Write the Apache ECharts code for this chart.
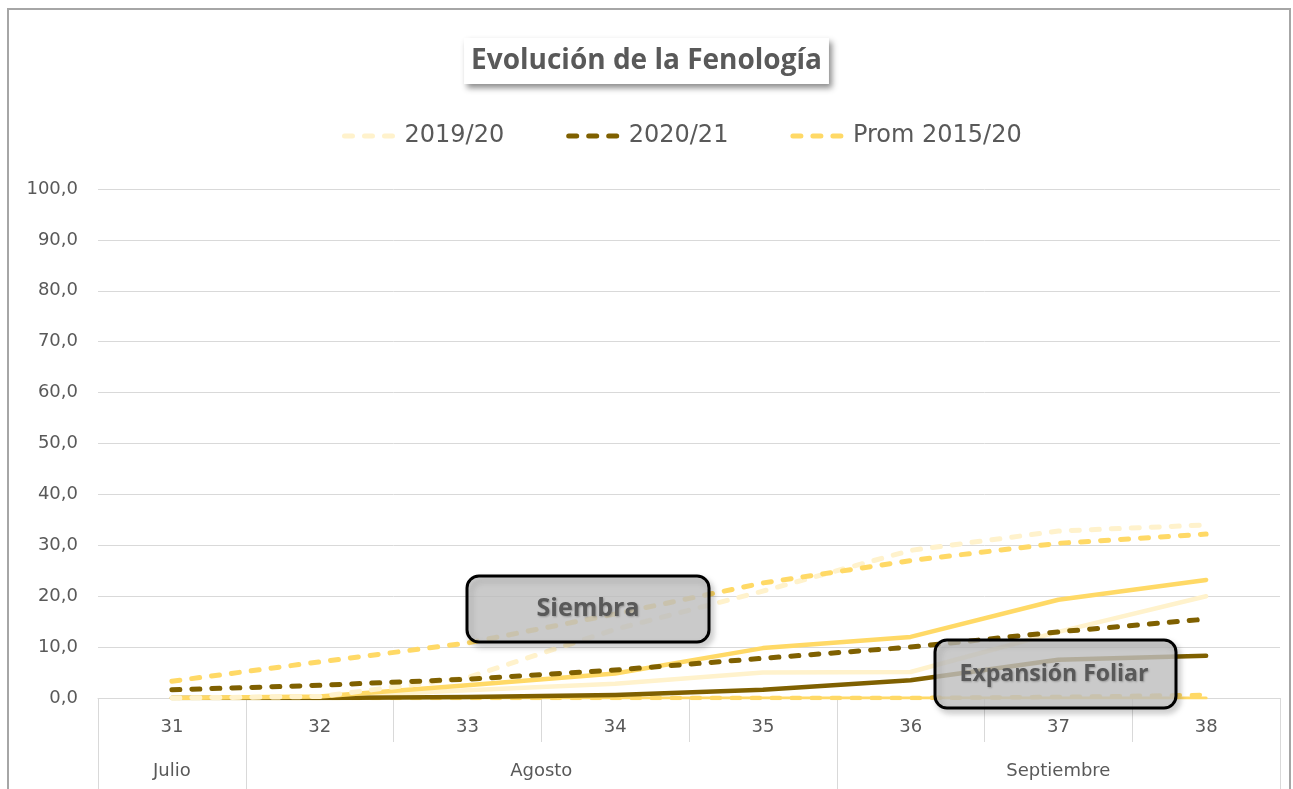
<!DOCTYPE html>
<html>
<head>
<meta charset="utf-8">
<script src="https://cdn.jsdelivr.net/npm/echarts@6/dist/echarts.min.js"></script>
<style>
html,body{margin:0;padding:0;background:#fff;}
#chart{width:1293px;height:789px;}
</style>
</head>
<body>
<div id="chart"></div>
<script>
// ---- data ----
const weeks = ['31', '32', '33', '34', '35', '36', '37', '38'];
const months = ['Julio', 'Agosto', 'Septiembre'];
const monthSpans = [1, 4, 3]; // weeks per month
const yTicks = [0, 10, 20, 30, 40, 50, 60, 70, 80, 90, 100];

// Siembra (dashed)
const siembra1920 = [0, 0.3, 4.0, 13.5, 21.0, 29.0, 32.8, 34.0];
const siembra2021 = [1.6, 2.5, 3.7, 5.5, 7.8, 10.0, 13.0, 15.5];
const siembraProm = [3.3, 7.1, 10.8, 16.5, 22.6, 27.0, 30.4, 32.2];
// Expansión foliar (solid)
const expansion1920 = [0, 0.2, 1.5, 2.8, 5.0, 5.1, 13.0, 20.0];
const expansion2021 = [0, 0, 0.2, 0.6, 1.6, 3.5, 7.5, 8.3];
const expansionProm = [0, 0.3, 2.5, 4.8, 9.8, 12.0, 19.3, 23.2];
// later stage (near zero)
const etapa3Prom = [0, 0, 0, 0, 0, 0, 0, 0];
const etapa3PromSiembra = [0, 0, 0, 0, 0, 0, 0.2, 0.6];

const legendNames = ['2019/20', '2020/21', 'Prom 2015/20'];

// ---- derived ----
const boundaries = [0];
monthSpans.forEach(s => boundaries.push(boundaries[boundaries.length - 1] + s));
const monthCenters = months.map((m, i) => (boundaries[i] + boundaries[i + 1]) / 2);

const C_LIGHT = '#FFF2CC', C_DARK = '#7F6000', C_PROM = '#FFD966';
const dash = [8, 12];

function line(name, data, color, dashed, width) {
  return {
    name: name, type: 'line', data: data, symbol: 'none', showSymbol: false, smooth: false,
    z: 2,
    lineStyle: { color: color, width: width, type: dashed ? dash : 'solid', cap: 'round', join: 'round' },
    itemStyle: { color: color },
    emphasis: { disabled: true }
  };
}

const boxStyle = {
  fill: 'rgba(198,198,198,0.78)', stroke: '#000', lineWidth: 3,
  shadowBlur: 6, shadowOffsetX: 3, shadowOffsetY: 4, shadowColor: 'rgba(0,0,0,0.22)'
};
const textShadow = { textShadowBlur: 2, textShadowColor: 'rgba(0,0,0,0.25)', textShadowOffsetX: 1, textShadowOffsetY: 1 };

const chart = echarts.init(document.getElementById('chart'));
chart.setOption({
  animation: false,
  title: {
    text: 'Evolución de la Fenología',
    left: 'center', top: 38,
    padding: [9, 7, 9, 7],
    backgroundColor: '#ffffff',
    shadowBlur: 6, shadowColor: 'rgba(0,0,0,0.45)', shadowOffsetX: 3, shadowOffsetY: 4,
    textStyle: { fontFamily: 'Open Sans', fontWeight: 'bold', fontSize: 28, color: '#595959' }
  },
  legend: {
    data: legendNames,
    top: 119, left: 337,
    itemWidth: 55, itemHeight: 14, itemGap: 62,
    itemStyle: { opacity: 0 },
    lineStyle: { width: 5 },
    textStyle: { fontFamily: 'DejaVu Sans', fontSize: 24, color: '#595959' }
  },
  grid: { left: 98, right: 13, top: 189, bottom: 91, containLabel: false, outerBoundsMode: 'none' },
  xAxis: [
    {
      type: 'category', data: weeks, boundaryGap: true, position: 'bottom',
      axisLine: { show: true, lineStyle: { color: '#D9D9D9', width: 1 } },
      axisTick: { show: true, interval: 0, length: 44, lineStyle: { color: '#D9D9D9', width: 1 } },
      axisLabel: { interval: 0, margin: 20, fontFamily: 'DejaVu Sans', fontSize: 18, color: '#595959' },
      splitLine: { show: false }
    },
    {
      type: 'value', min: 0, max: boundaries[boundaries.length - 1], position: 'bottom', offset: 44,
      axisLine: { show: false },
      axisTick: { show: true, customValues: boundaries, length: 50, lineStyle: { color: '#D9D9D9', width: 1 } },
      axisLabel: {
        show: true, customValues: monthCenters, margin: 20,
        fontFamily: 'DejaVu Sans', fontSize: 18, color: '#595959',
        formatter: function (v) { const i = monthCenters.indexOf(v); return i >= 0 ? months[i] : ''; }
      },
      splitLine: { show: false }
    }
  ],
  yAxis: {
    type: 'value', min: yTicks[0], max: yTicks[yTicks.length - 1], interval: yTicks[1] - yTicks[0],
    axisLine: { show: false }, axisTick: { show: false },
    splitLine: { lineStyle: { color: '#D9D9D9', width: 1 } },
    axisLabel: {
      margin: 20, fontFamily: 'DejaVu Sans', fontSize: 18, color: '#595959',
      formatter: v => v.toFixed(1).replace('.', ',')
    }
  },
  series: [
    line('Etapa3 Prom', etapa3Prom, C_PROM, false, 3),
    line('Etapa3 Prom s', etapa3PromSiembra, C_PROM, true, 4.5),
    line('Exp 2019/20', expansion1920, C_LIGHT, false, 4.5),
    line('Exp 2020/21', expansion2021, C_DARK, false, 4.5),
    line('Exp Prom', expansionProm, C_PROM, false, 4.5),
    line('2019/20', siembra1920, C_LIGHT, true, 5),
    line('Prom 2015/20', siembraProm, C_PROM, true, 5),
    line('2020/21', siembra2021, C_DARK, true, 5)
  ],
  graphic: [
    {
      type: 'rect', z: 1, silent: true,
      shape: { x: 8, y: 9, width: 1282, height: 900 },
      style: { fill: 'none', stroke: '#A6A6A6', lineWidth: 2 }
    },
    {
      type: 'rect', z: 100, silent: true,
      shape: { x: 467, y: 576, width: 242, height: 66, r: 12 },
      style: boxStyle
    },
    {
      type: 'text', z: 101, silent: true,
      style: Object.assign({ text: 'Siembra', x: 588, y: 609, align: 'center', verticalAlign: 'middle',
               font: 'bold 25px "Open Sans"', fill: '#595959' }, textShadow)
    },
    {
      type: 'rect', z: 100, silent: true,
      shape: { x: 935, y: 640, width: 241, height: 68, r: 12 },
      style: boxStyle
    },
    {
      type: 'text', z: 101, silent: true,
      style: Object.assign({ text: 'Expansión Foliar', x: 1054, y: 674, align: 'center', verticalAlign: 'middle',
               font: 'bold 23px "Open Sans"', fill: '#595959' }, textShadow)
    }
  ]
});
</script>
</body>
</html>
